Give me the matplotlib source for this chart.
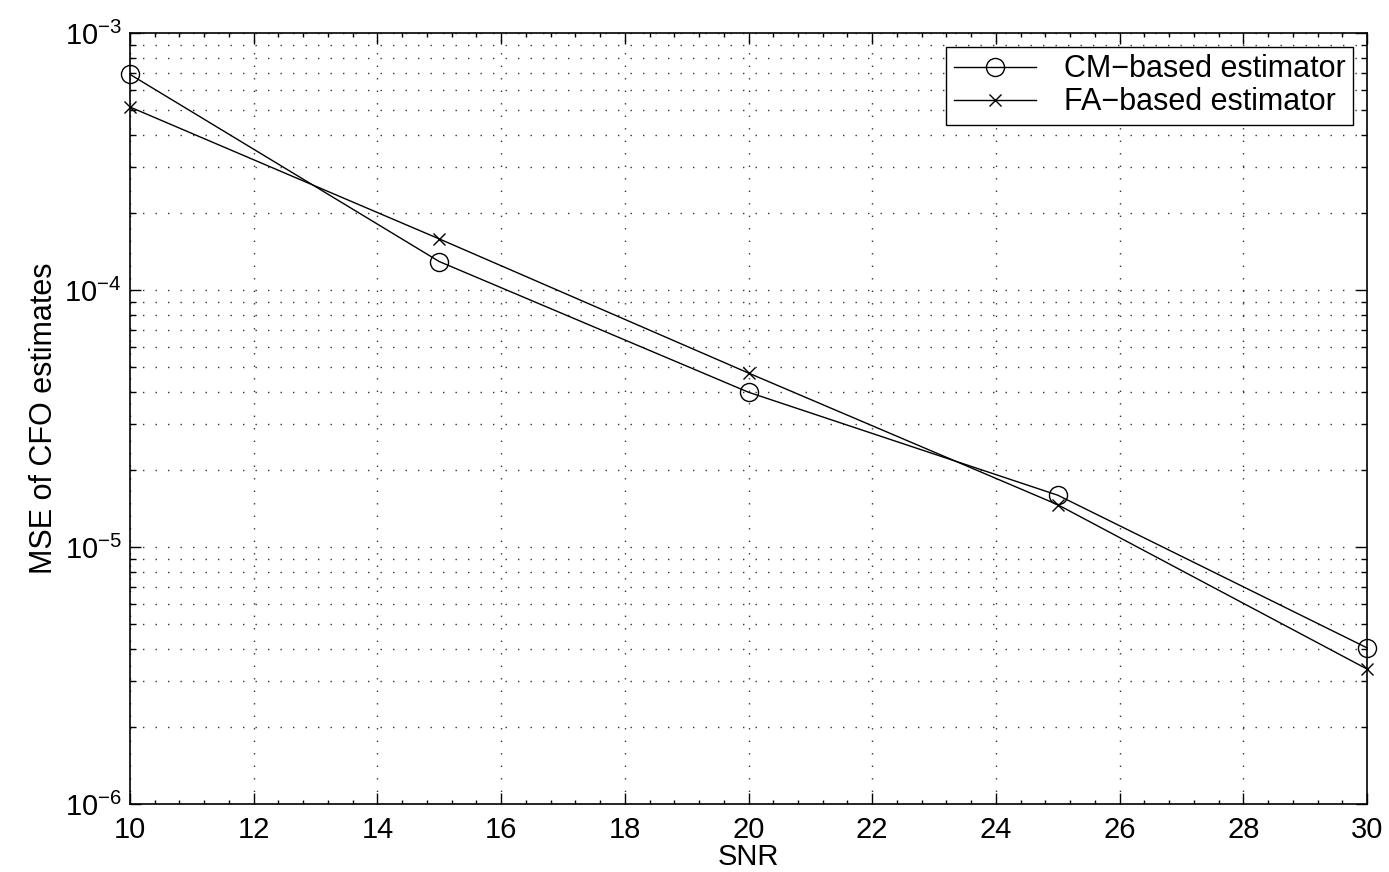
import matplotlib.pyplot as plt
from matplotlib.ticker import LogLocator, MultipleLocator, NullFormatter

plt.rcParams['font.family'] = ['Liberation Sans', 'DejaVu Sans']
plt.rcParams['mathtext.fontset'] = 'custom'
plt.rcParams['mathtext.rm'] = 'Liberation Sans'
plt.rcParams['mathtext.it'] = 'Liberation Sans'

# SNR points and MSE of the two estimators
snr = [10, 15, 20, 25, 30]
mse_cm = [6.9e-4, 1.29e-4, 4.0e-5, 1.59e-5, 4.05e-6]
mse_fa = [5.15e-4, 1.58e-4, 4.75e-5, 1.46e-5, 3.35e-6]

fig = plt.figure(figsize=(13.89, 8.72), dpi=100)
ax = fig.add_axes([0.0936, 0.078, 0.8906, 0.8842])

ax.semilogy(snr, mse_cm, color='black', lw=1.0, marker='o', ms=13,
            mfc='none', mew=1.0, label='CM\u2212based estimator', clip_on=False)
ax.semilogy(snr, mse_fa, color='black', lw=1.0, marker='x', ms=9,
            mew=1.0, label='FA\u2212based estimator', clip_on=False)

ax.set_xlim(10, 30)
ax.set_ylim(1e-6, 1e-3)
ax.xaxis.set_major_locator(MultipleLocator(2))
ax.xaxis.set_minor_locator(MultipleLocator(0.4))
ax.yaxis.set_major_locator(LogLocator(base=10, numticks=10))
ax.yaxis.set_minor_locator(LogLocator(base=10, subs=range(2, 10), numticks=20))
ax.yaxis.set_minor_formatter(NullFormatter())

# sparse dotted grid
dots = (0, (1, 8))
ax.grid(True, which='major', axis='both', color='#333333', ls=dots, lw=1.0)
ax.grid(True, which='minor', axis='y', color='#333333', ls=dots, lw=1.0)

ax.tick_params(which='both', direction='in', top=True, right=True,
               labelsize=21, width=1.0)
ax.tick_params(which='major', length=8)
ax.tick_params(which='minor', length=4)
ax.tick_params(axis='x', which='major', pad=9)
ax.tick_params(axis='x', which='minor', length=3)
ax.tick_params(axis='y', which='major', pad=6)
for s in ax.spines.values():
    s.set_linewidth(1.2)

ax.set_xlabel('SNR', fontsize=21, labelpad=-1)
ax.set_ylabel('MSE of CFO estimates', fontsize=22, labelpad=4)

leg = ax.legend(loc='upper right', fontsize=22, fancybox=False,
                edgecolor='black', framealpha=1, handlelength=2.7,
                borderaxespad=0.45, labelspacing=0.1, borderpad=0.25,
                handletextpad=0.9)
leg.get_frame().set_linewidth(1.0)

fig.savefig('out.png', dpi=100)
